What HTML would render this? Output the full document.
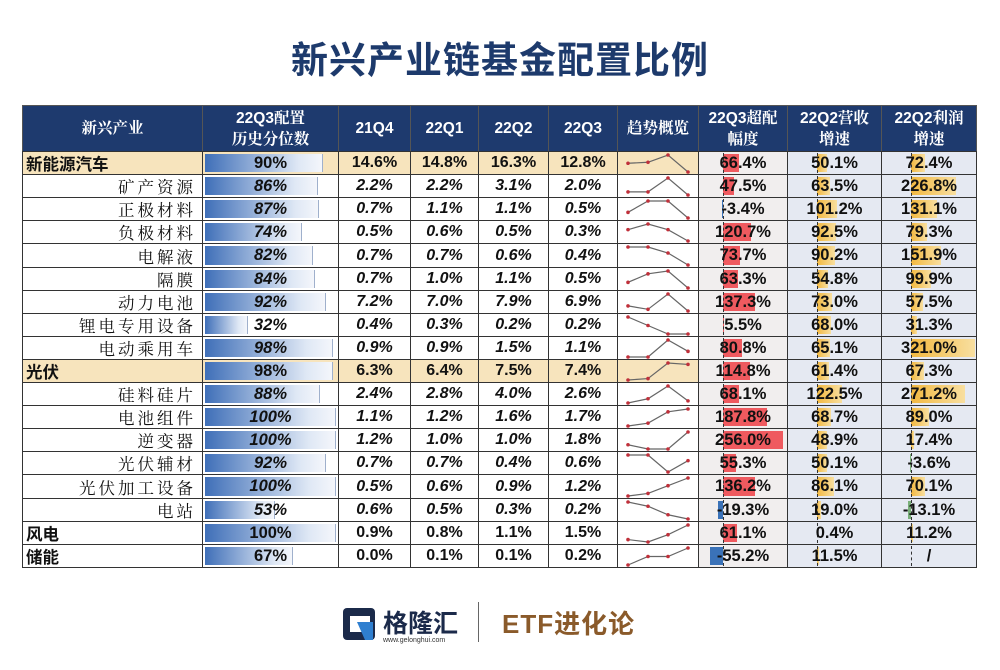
<!DOCTYPE html>
<html><head><meta charset="utf-8">
<style>
body{margin:0;width:1000px;height:670px;background:#fff;position:relative;overflow:hidden;font-family:"Liberation Sans","Noto Sans CJK SC",sans-serif;}
.t{position:absolute;left:0;width:1000px;top:30px;text-align:center;font-size:37px;font-weight:bold;color:#1d3a6c;font-family:"Liberation Sans","Noto Sans CJK SC",sans-serif;letter-spacing:1px}
#tbl{position:absolute;left:0;top:0;width:1000px;height:670px}
.c{position:absolute;box-sizing:border-box;border:1px solid #333;font-size:16px;font-weight:bold;color:#111;display:flex;align-items:center;justify-content:center;white-space:nowrap;overflow:hidden}
.h{background:#1e3a6e;color:#fff;border-color:#555;line-height:21px;text-align:center;font-size:15.5px;font-family:"Liberation Sans","Noto Serif CJK SC",serif}
.lbl{position:relative;z-index:2}
</style></head><body>
<div class="t">新兴产业链基金配置比例</div>
<div id="tbl"></div>
<div style="position:absolute;left:343px;top:604px;width:130px;height:44px">
 <svg width="36" height="34" style="position:absolute;left:0;top:4px"><rect x="0" y="0" width="32" height="32" rx="4" fill="#1b2a4a"/><rect x="7" y="8" width="20" height="16" fill="#fff"/><polygon points="14,14 30,14 30,32 22,32" fill="#2f7fd0"/></svg>
 <div style="position:absolute;left:40px;top:0px;font-size:25px;font-weight:bold;color:#1b2a4a">格隆汇</div>
 <div style="position:absolute;left:40px;top:33px;font-size:7px;color:#333">www.gelonghui.com</div>
</div>
<div style="position:absolute;left:478px;top:602px;width:1px;height:40px;background:#666"></div>
<div style="position:absolute;left:502px;top:604px;font-size:26px;font-weight:bold;color:#8a5a2a;letter-spacing:1px">ETF进化论</div>
<script>
const names=["新能源汽车","矿产资源","正极材料","负极材料","电解液","隔膜","动力电池","锂电专用设备","电动乘用车","光伏","硅料硅片","电池组件","逆变器","光伏辅材","光伏加工设备","电站","风电","储能"];
const parent=[1,0,0,0,0,0,0,0,0,1,0,0,0,0,0,0,1,1];
const percentile=[90,86,87,74,82,84,92,32,98,98,88,100,100,92,100,53,100,67];
const q21Q4=[14.6,2.2,0.7,0.5,0.7,0.7,7.2,0.4,0.9,6.3,2.4,1.1,1.2,0.7,0.5,0.6,0.9,0.0];
const q22Q1=[14.8,2.2,1.1,0.6,0.7,1.0,7.0,0.3,0.9,6.4,2.8,1.2,1.0,0.7,0.6,0.5,0.8,0.1];
const q22Q2=[16.3,3.1,1.1,0.5,0.6,1.1,7.9,0.2,1.5,7.5,4.0,1.6,1.0,0.4,0.9,0.3,1.1,0.1];
const q22Q3=[12.8,2.0,0.5,0.3,0.4,0.5,6.9,0.2,1.1,7.4,2.6,1.7,1.8,0.6,1.2,0.2,1.5,0.2];
const excess=[66.4,47.5,-3.4,120.7,73.7,63.3,137.3,5.5,80.8,114.8,68.1,187.8,256.0,55.3,136.2,-19.3,61.1,-55.2];
const revenue=[50.1,63.5,101.2,92.5,90.2,54.8,73.0,68.0,65.1,61.4,122.5,68.7,48.9,50.1,86.1,19.0,0.4,11.5];
const profit=[72.4,226.8,131.1,79.3,151.9,99.9,57.5,31.3,321.0,67.3,271.2,89.0,17.4,-3.6,70.1,-13.1,11.2,null];

const T=document.getElementById('tbl');
const cols=[22,202,338,410,478,548,617,698,787,881,976];
const top0=105,hH=46,rH=23.1;
function cell(x0,x1,y,h,cls,html,bg){
  const d=document.createElement('div');
  d.className='c '+cls;
  d.style.left=x0+'px';d.style.top=y+'px';d.style.width=(x1-x0+1)+'px';d.style.height=(h+1)+'px';
  if(bg)d.style.background=bg;
  d.innerHTML=html;T.appendChild(d);return d;
}
const heads=["新兴产业","22Q3配置<br>历史分位数","21Q4","22Q1","22Q2","22Q3","趋势概览","22Q3超配<br>幅度","22Q2营收<br>增速","22Q2利润<br>增速"];
heads.forEach((h,i)=>{const d=cell(cols[i],cols[i+1],top0,hH,'h',h);

});
const fx=v=>v.toFixed(1)+'%';
names.forEach((n,r)=>{
  const y=Math.round(top0+hH+r*rH);const h=Math.round(top0+hH+(r+1)*rH)-y;
  const hl=r==0||r==9;const bg=hl?'#f7e4bd':'#fff';
  const it=parent[r]?'normal':'italic';
  let d=cell(cols[0],cols[1],y,h,'',n,bg);
  
  
  d.style.justifyContent=parent[r]?'flex-start':'flex-end';d.style.padding='0 6px 0 3px';d.style.fontWeight=parent[r]?'bold':'normal';d.style.letterSpacing=parent[r]?'0':'3px';
  d.style.fontFamily=parent[r]?'"Liberation Sans","Noto Sans CJK SC",sans-serif':'"Liberation Serif","Noto Serif CJK SC",serif';
  d.style.fontSize='16.5px';
  d=cell(cols[1],cols[2],y,h,'','',hl?bg:'#fff');
  
  
  const w=percentile[r]*1.3;
  d.innerHTML=`<div style="position:absolute;left:2px;top:2px;bottom:2px;width:${w}px;background:linear-gradient(90deg,#3f6fb8,#dfe8f5 80%,#f4f6fb);border-right:1px solid #9fb0cc"></div><span class="lbl" style="font-style:${it};font-size:16.5px">${percentile[r]}%</span>`;
  [q21Q4,q22Q1,q22Q2,q22Q3].forEach((a,k)=>{const e=cell(cols[2+k],cols[3+k],y,h,'',`<span style="font-style:${it}">${fx(a[r])}</span>`,bg);
    
    });
  const vals=[q21Q4[r],q22Q1[r],q22Q2[r],q22Q3[r]];const mn=Math.min(...vals),mx=Math.max(...vals);
  const py=v=>mx==mn?h/2:3+(h-6)*(1-(v-mn)/(mx-mn));
  const pts=vals.map((v,k)=>[10+k*20,py(v)]);
  let s=`<svg width="80" height="${h}" style="position:absolute;left:0;top:0"><polyline points="${pts.map(p=>p.join(',')).join(' ')}" fill="none" stroke="#666" stroke-width="1.2"/>`;
  pts.forEach(p=>s+=`<circle cx="${p[0]}" cy="${p[1]}" r="1.8" fill="#c0303a"/>`);
  d=cell(cols[6],cols[7],y,h,'',s+'</svg>',bg);
  
  
  function barCell(ci,ax,v,scale,pc,nc,cbg,nm){
    const e=cell(cols[ci],cols[ci+1],y,h,'','',cbg);
    
    
    let hh='';
    if(v!=null){const w=Math.abs(v)*scale;const l=v>=0?ax:ax-w;
      hh+=`<div style="position:absolute;left:${l}px;width:${w}px;top:2px;bottom:2px;background:${v>=0?pc:nc}"></div>`;}
    hh+=`<div style="position:absolute;left:${ax}px;top:1px;bottom:1px;border-left:1px dashed #333"></div>`;
    hh+=`<span class="lbl" style="font-weight:bold;font-size:16.5px">${v==null?'/':fx(v)}</span>`;
    e.innerHTML=hh;
  }
  barCell(7,24,excess[r],0.235,'#ef5a5f','#3a72b8','#f1eeee','excess-cell');
  barCell(8,29,revenue[r],0.2,'linear-gradient(90deg,#f2b840,#f8dfa0)','#7ab07a','#e5e9f2','revenue-growth-cell');
  barCell(9,29,profit[r],0.2,'linear-gradient(90deg,#f2b840,#f8dfa0)','#7ab07a','#e5e9f2','profit-growth-cell');
});
</script>
</body></html>
